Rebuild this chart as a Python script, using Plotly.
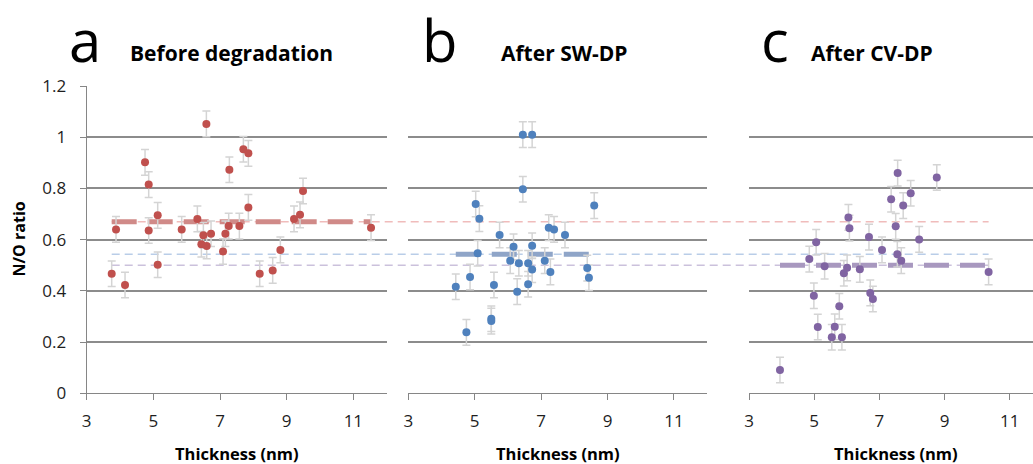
import plotly.graph_objects as go

W, H = 1033, 464

# ---------------- data ----------------
a_x = [3.75, 3.88, 4.15, 4.75, 4.86, 4.86, 5.13, 5.13, 5.85, 6.32,
       6.59, 6.50, 6.73, 6.44, 6.60, 7.09, 7.16, 7.26, 7.28, 7.58,
       7.70, 7.85, 7.85, 8.19, 8.58, 8.81, 9.22, 9.40, 9.49, 11.53]
a_y = [0.467, 0.640, 0.423, 0.902, 0.815, 0.636, 0.695, 0.502, 0.640, 0.681,
       1.052, 0.617, 0.623, 0.582, 0.575, 0.554, 0.623, 0.653, 0.873, 0.653,
       0.953, 0.937, 0.726, 0.467, 0.480, 0.560, 0.681, 0.697, 0.790, 0.647]

b_x = [6.45, 6.73, 6.45, 5.03, 5.14, 5.75, 6.17, 6.73, 5.09, 6.07,
       6.33, 6.61, 6.73, 7.11, 7.28, 7.23, 7.39, 4.43, 4.86, 5.58,
       6.28, 6.61, 5.50, 5.50, 4.75, 7.72, 8.60, 8.39, 8.44]
b_y = [1.010, 1.010, 0.797, 0.739, 0.682, 0.618, 0.572, 0.576, 0.547, 0.518,
       0.508, 0.508, 0.483, 0.518, 0.474, 0.647, 0.640, 0.416, 0.454, 0.423,
       0.397, 0.426, 0.291, 0.282, 0.238, 0.618, 0.733, 0.489, 0.451]

c_x = [3.95, 4.85, 5.06, 5.32, 4.99, 5.11, 5.54, 5.63, 5.77, 5.85,
       5.91, 6.01, 6.05, 6.08, 6.40, 6.68, 6.72, 6.80, 7.08, 7.36,
       7.56, 7.50, 7.55, 7.67, 7.73, 7.96, 8.76, 8.22, 10.35]
c_y = [0.091, 0.524, 0.590, 0.496, 0.381, 0.259, 0.219, 0.260, 0.340, 0.219,
       0.469, 0.490, 0.687, 0.645, 0.484, 0.610, 0.392, 0.368, 0.560, 0.758,
       0.860, 0.652, 0.543, 0.518, 0.733, 0.781, 0.843, 0.601, 0.474]

mean_values = [0.67, 0.543, 0.50]
error_size = 0.05

panel_letters = ["a", "b", "c"]
panel_titles = ["Before degradation", "After SW-DP", "After CV-DP"]
x_title = "Thickness (nm)"
y_title = "N/O ratio"
x_tick_vals = [3, 5, 7, 9, 11]
y_tick_vals = [0, 0.2, 0.4, 0.6, 0.8, 1.0, 1.2]
y_tick_text = ["0", "0.2", "0.4", "0.6", "0.8", "1", "1.2"]

# ---------------- styles ----------------
marker_colors = ["#C0504D", "#4F81BD", "#8064A2"]
thick_colors = ["#D08A88", "#8FA5C8", "#A898BF"]
thin_colors = ["#F0BCBB", "#B9CDE8", "#CBC1DC"]
grid_color = "#8C8C8C"
axis_color = "#868686"
err_color = "#D4D4D4"
FONT = "Open Sans"
TXT = "#1E1E1E"

doms = [[86.7 / W, 386.7 / W], [408.3 / W, 707.1 / W], [749.0 / W, 1.0]]
xranges = [[3, 12], [3, 12], [3, 3 + (W - 749.0) / 32.6]]
ydom = [1 - 393.3 / H, 1 - 86.0 / H]


def to_paper(x, i):
    d, r = doms[i], xranges[i]
    return d[0] + (x - r[0]) / (r[1] - r[0]) * (d[1] - d[0])


xs = [a_x, b_x, c_x]
ys = [a_y, b_y, c_y]

fig = go.Figure()
for i in range(3):
    xa = "x" if i == 0 else f"x{i+1}"
    ya = "y" if i == 0 else f"y{i+1}"
    # thick dashed mean line
    fig.add_trace(go.Scatter(
        x=[min(xs[i]), max(xs[i])], y=[mean_values[i]] * 2, mode="lines",
        line=dict(color=thick_colors[i], width=5, dash="25px,11px"),
        xaxis=xa, yaxis=ya, hoverinfo="skip", showlegend=False))
    fig.add_trace(go.Scatter(
        x=xs[i], y=ys[i], mode="markers",
        marker=dict(color=marker_colors[i], size=8),
        error_y=dict(type="constant", value=error_size, color=err_color,
                     thickness=1.5, width=4),
        xaxis=xa, yaxis=ya, showlegend=False))

# thin dashed reference lines spanning all panels
x_start = to_paper(min(a_x), 0)
x_end = to_paper(max(c_x), 2)
for i in range(3):
    fig.add_shape(type="line", xref="paper", yref="y",
                  x0=x_start, x1=x_end, y0=mean_values[i], y1=mean_values[i],
                  line=dict(color=thin_colors[i], width=1.5, dash="8px,5px"),
                  layer="between")

layout = dict(
    width=W, height=H, margin=dict(l=0, r=0, t=0, b=0, pad=0),
    autosize=False,
    paper_bgcolor="white", plot_bgcolor="white",
    font=dict(family=FONT, color=TXT),
    showlegend=False,
)
for i in range(3):
    sx = "" if i == 0 else str(i + 1)
    layout["xaxis" + sx] = dict(
        domain=doms[i], range=xranges[i], anchor="y" + sx, automargin=False,
        tickvals=x_tick_vals, showgrid=False, zeroline=False,
        showline=True, linecolor=axis_color, linewidth=1.3,
        ticks="outside", ticklen=6, tickcolor=axis_color, tickwidth=1.3,
        tickfont=dict(size=17, family=FONT, color=TXT),
        ticklabelstandoff=6,
    )
    ydict = dict(
        domain=ydom, range=[0, 1.2001], anchor="x" + sx, automargin=False,
        tickvals=y_tick_vals, ticktext=y_tick_text,
        showgrid=True, gridcolor=grid_color, gridwidth=1.5,
        zeroline=False,
    )
    if i == 0:
        ydict.update(showline=True, linecolor=axis_color, linewidth=1.3,
                     ticks="outside", ticklen=6, tickcolor=axis_color,
                     tickwidth=1.3, showticklabels=True,
                     tickfont=dict(size=17, family=FONT, color=TXT),
                     ticklabelstandoff=10)
    else:
        ydict.update(showline=False, showticklabels=False, ticks="")
    layout["yaxis" + sx] = ydict

fig.update_layout(**layout)

# annotations
letter_x = [85, 440, 775]
title_x = [231.5, 564, 872]
for i in range(3):
    fig.add_annotation(text=panel_letters[i], xref="paper", yref="paper",
                       x=letter_x[i] / W, y=1 - 39 / H, xanchor="center",
                       yanchor="middle", showarrow=False,
                       font=dict(size=58, family=FONT, color="#000000"))
    fig.add_annotation(text="<b>" + panel_titles[i] + "</b>", xref="paper",
                       yref="paper", x=title_x[i] / W, y=1 - 53 / H,
                       xanchor="center", yanchor="middle", showarrow=False,
                       font=dict(size=21, family=FONT, color="#000000"))
    xc = (to_paper(3, i) + to_paper(12, i)) / 2
    fig.add_annotation(text="<b>" + x_title + "</b>", xref="paper",
                       yref="paper", x=xc, y=1 - 453 / H, xanchor="center",
                       yanchor="middle", showarrow=False,
                       font=dict(size=16.5, family=FONT, color="#000000"))

fig.add_annotation(text="<b>" + y_title + "</b>", xref="paper", yref="paper",
                   x=18 / W, y=1 - 239.5 / H, xanchor="center",
                   yanchor="middle", textangle=-90, showarrow=False,
                   font=dict(size=16, family=FONT, color="#000000"))

fig.write_html("out.html")
